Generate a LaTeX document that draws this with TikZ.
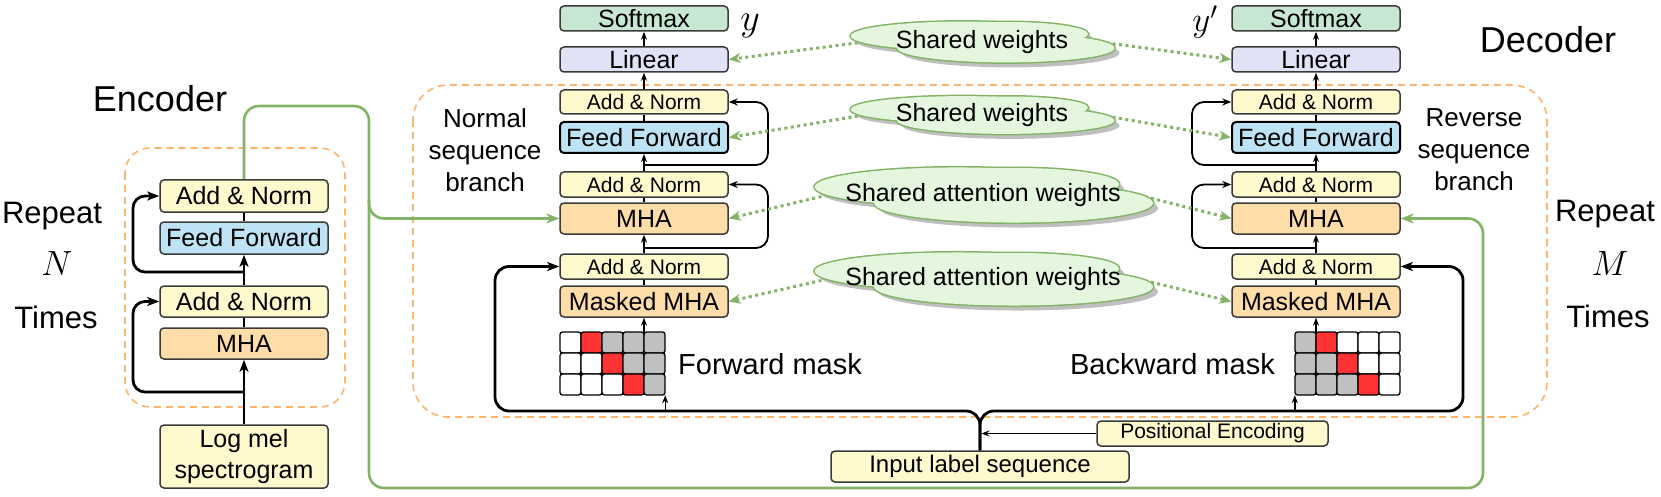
\RequirePackage{fix-cm}
\documentclass[tikz,border=0pt]{standalone}
\usepackage{fontspec}
\setmainfont{Liberation Sans}
\usetikzlibrary{arrows.meta}
\definecolor{anfill}{HTML}{FFFACD}
\definecolor{fffill}{HTML}{BEE3F4}
\definecolor{mhafill}{HTML}{FFDDA8}
\definecolor{smfill}{HTML}{C7E7D3}
\definecolor{linfill}{HTML}{E2E2F7}
\definecolor{gline}{HTML}{82B366}
\definecolor{gfill}{HTML}{E4F7DE}
\definecolor{odashc}{HTML}{FFB36B}
\definecolor{mred}{HTML}{FF3333}
\definecolor{mgray}{HTML}{C0C0C0}
\definecolor{bord}{HTML}{3A3A3A}
\newcommand{\myfs}[1]{\fontsize{#1}{#1}\selectfont}
% cloud drawn as union of three ellipses: cx, cy, W, H
\newcommand{\cloudshape}[4]{%
  \foreach \dx/\dy in {5/5}{%
    \fill[black!25] ({#1-0.075*#3+\dx},{#2-0.15*#4+\dy}) ellipse [x radius={0.42*#3 pt}, y radius={0.36*#4 pt}];
    \fill[black!25] ({#1+0.09*#3+\dx},{#2+0.15*#4+\dy}) ellipse [x radius={0.41*#3 pt}, y radius={0.36*#4 pt}];
    \fill[black!25] ({#1+0.1*#3+\dx},{#2-0.2*#4+\dy}) ellipse [x radius={0.3*#3 pt}, y radius={0.3*#4 pt}];
  }
  \draw[gline, line width=3pt] ({#1-0.075*#3},{#2-0.15*#4}) ellipse [x radius={0.42*#3 pt}, y radius={0.36*#4 pt}];
  \draw[gline, line width=3pt] ({#1+0.09*#3},{#2+0.15*#4}) ellipse [x radius={0.41*#3 pt}, y radius={0.36*#4 pt}];
  \draw[gline, line width=3pt] ({#1+0.1*#3},{#2-0.2*#4}) ellipse [x radius={0.3*#3 pt}, y radius={0.3*#4 pt}];
  \fill[gfill] ({#1-0.075*#3},{#2-0.15*#4}) ellipse [x radius={0.42*#3 pt}, y radius={0.36*#4 pt}];
  \fill[gfill] ({#1+0.09*#3},{#2+0.15*#4}) ellipse [x radius={0.41*#3 pt}, y radius={0.36*#4 pt}];
  \fill[gfill] ({#1+0.1*#3},{#2-0.2*#4}) ellipse [x radius={0.3*#3 pt}, y radius={0.3*#4 pt}];
}
\tikzset{
  bx/.style={draw=bord, line width=1.5pt, rounded corners=4pt, minimum width=168pt, inner sep=0pt, align=center, font=\myfs{25}},
  anb/.style={bx, fill=anfill},
  ffb/.style={bx, fill=fffill},
  mhab/.style={bx, fill=mhafill},
  smb/.style={bx, fill=smfill},
  linb/.style={bx, fill=linfill},
  tarr/.style={draw=black, line width=1.4pt, -{Stealth[length=8pt,width=6pt]}},
  thk/.style={draw=black, line width=2.8pt},
  earr/.style={draw=black, line width=2.8pt, -{Stealth[length=12pt,width=9pt,inset=3pt]}},
  eres/.style={draw=black, line width=2.8pt, rounded corners=12pt, -{Stealth[length=12pt,width=9pt,inset=3pt]}},
  res/.style={draw=black, line width=1.8pt, rounded corners=12pt, -{Stealth[length=9pt,width=7pt]}},
  bres/.style={draw=black, line width=2.8pt, rounded corners=14pt, -{Stealth[length=12pt,width=9pt,inset=3pt]}},
  gln/.style={draw=gline, line width=2.6pt, rounded corners=15pt},
  garr/.style={gln, -{Stealth[length=13pt,width=10pt]}},
  gdot/.style={draw=gline, line width=3pt, dash pattern=on 3pt off 3.5pt, -{Stealth[length=12pt,width=10pt]}},
  odash/.style={draw=odashc, line width=1.6pt, dash pattern=on 7pt off 5pt},
  cellst/.style={draw=black, line width=1.3pt, rounded corners=2.5pt},
  cloudbox/.style={inner sep=0pt, font=\myfs{25}},
  lbl/.style={inner sep=0pt, anchor=base},
}
\begin{document}
\begin{tikzpicture}[x=1pt,y=-1pt]
\useasboundingbox (0,0) rectangle (1661,497);

% dashed frames
\draw[odash, rounded corners=25pt] (125,148) rectangle (345,407);
\draw[odash, rounded corners=35pt] (413,85) rectangle (1547,417);

% labels
\node[lbl, font=\myfs{36}] (enclbl) at (160,112) {Encoder};
\node[lbl, font=\myfs{36}] (declbl) at (1548,53) {Decoder};
\node[lbl, font=\myfs{31}] (repL) at (52,223) {Repeat};
\node[lbl, font=\myfs{35}] (nL) at (57,275) {$N$};
\node[lbl, font=\myfs{31}] (timL) at (56,328) {Times};
\node[lbl, font=\myfs{31}] (repR) at (1605,222) {Repeat};
\node[lbl, font=\myfs{35}] (mR) at (1610,275) {$M$};
\node[lbl, font=\myfs{31}] (timR) at (1608,327) {Times};
\node[inner sep=0pt, align=center, font=\myfs{26}, text depth=0pt] (nsb) at (485,150) {Normal\\[6pt]sequence\\[6pt]branch};
\node[inner sep=0pt, align=center, font=\myfs{26}, text depth=0pt] (rsb) at (1474,150) {Reverse\\[6pt]sequence\\[6pt]branch};
\node[lbl, anchor=base west, font=\myfs{29}] (fwm) at (678,374) {Forward mask};
\node[lbl, anchor=base east, font=\myfs{29}] (bwm) at (1275,374) {Backward mask};
\node[lbl, font=\myfs{38}] (yL) at (750,31) {$y$};
\node[lbl, font=\myfs{35}] (yR) at (1205,32) {$y'$};

% encoder
\node[anb, minimum height=32pt] (eAN2) at (244,196) {Add \& Norm};
\node[ffb, minimum height=32pt] (eFF) at (244,238) {Feed Forward};
\node[anb, minimum height=31pt] (eAN1) at (244,301.5) {Add \& Norm};
\node[mhab, minimum height=31pt] (eMHA) at (244,343.5) {MHA};
\node[anb, minimum height=63pt, font=\myfs{25}] (eLog) at (244,456.5) {Log mel\\[6pt]spectrogram};

\draw[earr] (eLog.north) -- (eMHA.south);
\draw[thk] (eMHA.north) -- (eAN1.south);
\draw[earr] (eAN1.north) -- (eFF.south);
\draw[thk] (eFF.north) -- (eAN2.south);
\coordinate (eb1) at (244,392);
\coordinate (eb2) at (244,272);
\coordinate (ecx) at (133,300);
\draw[eres] (eb1) -| (ecx |- eAN1.west) -- (eAN1.west);
\draw[eres] (eb2) -| (ecx |- eAN2.west) -- (eAN2.west);

% decoder columns
\foreach \s/\cx in {L/644,R/1316}{
  \node[smb, minimum height=25pt] (\s SM) at (\cx,18.5) {Softmax};
  \node[linb, minimum height=25pt] (\s LIN) at (\cx,59.5) {Linear};
  \node[anb, minimum height=24pt, font=\myfs{21}] (\s AN3) at (\cx,102) {Add \& Norm};
  \node[ffb, minimum height=31pt, draw=black, line width=2pt] (\s FF) at (\cx,137.5) {Feed Forward};
  \node[anb, minimum height=25pt, font=\myfs{21}] (\s AN2) at (\cx,184.5) {Add \& Norm};
  \node[mhab, minimum height=31pt] (\s MHA) at (\cx,218.5) {MHA};
  \node[anb, minimum height=25pt, font=\myfs{21}] (\s AN1) at (\cx,266.5) {Add \& Norm};
  \node[mhab, minimum height=31pt] (\s MM) at (\cx,301.5) {Masked MHA};
  \draw[tarr] (\s LIN.north) -- (\s SM.south);
  \draw[tarr] (\s AN3.north) -- (\s LIN.south);
  \draw[thk] (\s FF.north) -- (\s AN3.south);
  \draw[tarr] (\s AN2.north) -- (\s FF.south);
  \draw[thk] (\s MHA.north) -- (\s AN2.south);
  \draw[tarr] (\s AN1.north) -- (\s MHA.south);
  \draw[thk] (\s MM.north) -- (\s AN1.south);
}

% masks
\node[minimum width=105pt, minimum height=63pt, inner sep=0pt] (gridL) at (612.5,363.5) {};
\node[minimum width=105pt, minimum height=63pt, inner sep=0pt] (gridR) at (1347.5,363.5) {};
\foreach \r in {0,1,2}{\foreach \c in {0,...,4}{
  \ifnum\c=\numexpr\r+1\relax \def\cc{mred}\else\ifnum\c<\numexpr\r+1\relax\def\cc{white}\else\def\cc{mgray}\fi\fi
  \draw[cellst, fill=\cc] (560+21*\c,332+21*\r) rectangle ++(21,21);
  \ifnum\c=\numexpr\r+1\relax \def\cd{mred}\else\ifnum\c<\numexpr\r+1\relax\def\cd{mgray}\else\def\cd{white}\fi\fi
  \draw[cellst, fill=\cd] (1295+21*\c,332+21*\r) rectangle ++(21,21);
}}
\draw[tarr] (LMM.south |- gridL.north) -- (LMM.south);
\draw[tarr] (RMM.south |- gridR.north) -- (RMM.south);

% residuals in decoder
\coordinate (lb1) at (644,248);
\coordinate (lb2) at (644,165);
\coordinate (rb1) at (1316,248);
\coordinate (rb2) at (1316,165);
\coordinate (lrx) at (768,200);
\coordinate (rrx) at (1192,200);
\draw[res] (lb1) -| (lrx |- LAN2.east) -- (LAN2.east);
\draw[res] (lb2) -| (lrx |- LAN3.east) -- (LAN3.east);
\draw[res] (rb1) -| (rrx |- RAN2.west) -- (RAN2.west);
\draw[res] (rb2) -| (rrx |- RAN3.west) -- (RAN3.west);

% input
\node[anb, minimum width=298pt, minimum height=31pt, font=\myfs{24}] (inp) at (980,466.5) {Input label sequence};
\node[anb, minimum width=231pt, minimum height=25pt, font=\myfs{21}] (pe) at (1212.5,433.5) {Positional Encoding};
\coordinate (jn) at (980,411);
\coordinate (bl) at (495,411);
\coordinate (br) at (1463,411);
\draw[bres] (inp.north) |- (bl) |- (LAN1.west);
\draw[bres] (inp.north) |- (br) |- (RAN1.east);
\draw[tarr, shorten >=1.4pt] (pe.west) -- (inp.north |- pe.west);
\draw[tarr] (gridL.south east |- jn) -- (gridL.south east);
\draw[tarr] (gridR.south west |- jn) -- (gridR.south west);

% green encoder output
\coordinate (g1) at (369,106);
\coordinate (g2) at (369,200);
\coordinate (g3) at (1483,488);
\draw[garr] (eAN2.north) |- (g1) |- (LMHA.west);
\draw[garr] (g2) |- (g3) |- (RMHA.east);

% clouds (anchor boxes)
\node[inner sep=0pt, minimum width=265pt, minimum height=40pt] (c1) at (982,42) {};
\node[inner sep=0pt, minimum width=265pt, minimum height=37pt] (c2) at (982,115) {};
\node[inner sep=0pt, minimum width=340pt, minimum height=54pt] (c3) at (983,195) {};
\node[inner sep=0pt, minimum width=340pt, minimum height=52pt] (c4) at (983,279) {};
% dotted links (drawn first, clouds cover their starts)
\draw[gdot] ([xshift=15pt]c1.west) -- (LLIN.east);
\draw[gdot] ([xshift=-15pt]c1.east) -- (RLIN.west);
\draw[gdot] ([xshift=15pt]c2.west) -- (LFF.east);
\draw[gdot] ([xshift=-15pt]c2.east) -- (RFF.west);
\draw[gdot] ([xshift=15pt]c3.west) -- (LMHA.east);
\draw[gdot] ([xshift=-15pt]c3.east) -- (RMHA.west);
\draw[gdot] ([xshift=15pt]c4.west) -- (LMM.east);
\draw[gdot] ([xshift=-15pt]c4.east) -- (RMM.west);
\cloudshape{982}{42}{265}{40}
\cloudshape{982}{115}{265}{37}
\cloudshape{983}{195}{340}{54}
\cloudshape{983}{279}{340}{52}
\node[cloudbox] (t1) at (c1) {Shared weights};
\node[cloudbox] (t2) at (c2) {Shared weights};
\node[cloudbox] (t3) at (c3) {Shared attention weights};
\node[cloudbox] (t4) at (c4) {Shared attention weights};
\end{tikzpicture}
\end{document}
